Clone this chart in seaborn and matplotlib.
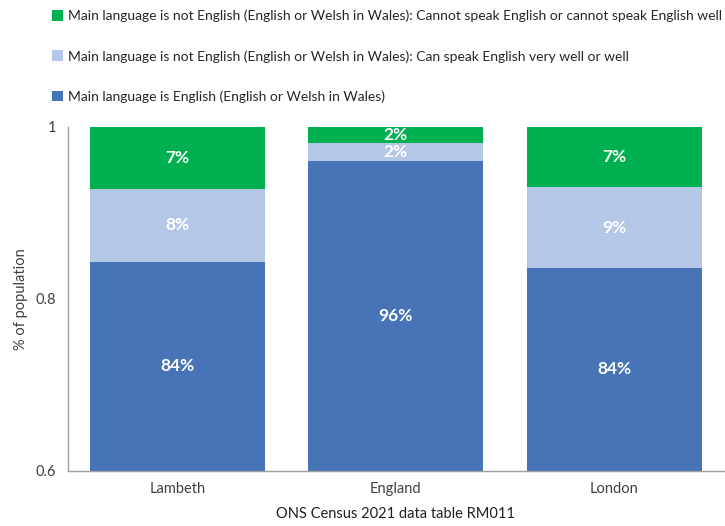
import pandas as pd
import numpy as np
import matplotlib.pyplot as plt
import seaborn as sns
from matplotlib.patches import Patch

areas = ["Lambeth", "England", "London"]
english_main = [0.843, 0.961, 0.836]
speak_well = [0.085, 0.020, 0.094]
cannot_speak = [0.072, 0.019, 0.070]

series_labels = [
    "Main language is English (English or Welsh in Wales)",
    "Main language is not English (English or Welsh in Wales): Can speak English very well or well",
    "Main language is not English (English or Welsh in Wales): Cannot speak English or cannot speak English well",
]
colors = ["#4674B6", "#B4C7E7", "#00B050"]

sns.set_style("white")
plt.rcParams["font.family"] = ["Lato", "DejaVu Sans"]

df = pd.DataFrame({"area": areas, "s0": english_main, "s1": speak_well, "s2": cannot_speak})
df["c0"] = df["s0"]
df["c1"] = df["s0"] + df["s1"]
df["c2"] = df["c1"] + df["s2"]

fig = plt.figure(figsize=(7.25, 5.26), dpi=100)
ax = fig.add_axes([0.094, 0.1046, 0.904, 0.654])

# draw cumulative layers from the top down so each one covers the next
for col, color in zip(["c2", "c1", "c0"], colors[::-1]):
    sns.barplot(data=df, x="area", y=col, color=color, width=0.8, saturation=1,
                edgecolor="none", ax=ax)

for i in range(len(areas)):
    lows = [0.6, df.loc[i, "c0"], df.loc[i, "c1"]]
    highs = [df.loc[i, "c0"], df.loc[i, "c1"], df.loc[i, "c2"]]
    vals = [df.loc[i, "s0"], df.loc[i, "s1"], df.loc[i, "s2"]]
    for lo, hi, v in zip(lows, highs, vals):
        ax.text(i, (lo + hi) / 2, f"{v * 100:.0f}%", ha="center", va="center",
                color="white", fontsize=12.5, fontweight="bold")

ax.set_ylim(0.6, 1.0)
ax.set_xlim(-0.5, 2.5)
ax.set_yticks([0.6, 0.8, 1.0])
ax.set_yticklabels(["0.6", "0.8", "1"])
ax.set_xticks(range(len(areas)))
ax.set_xticklabels(areas)
ax.set_xticks([0.5, 1.5, 2.5], minor=True)
ax.tick_params(axis="x", which="major", length=0, pad=8, labelsize=10.5, colors="#404040")
ax.tick_params(axis="x", which="minor", length=5, color="#A0A0A0", direction="out")
ax.tick_params(axis="y", length=5, color="#A0A0A0", direction="out", labelsize=10.5,
               labelcolor="#404040")
ax.set_ylabel("% of population", fontsize=10.5, color="#404040", labelpad=6)
ax.set_xlabel("ONS Census 2021 data table RM011", fontsize=10.5, color="#202020", labelpad=8)
for s in ["top", "right"]:
    ax.spines[s].set_visible(False)
for s in ["left", "bottom"]:
    ax.spines[s].set_color("#A0A0A0")
    ax.spines[s].set_linewidth(1)

handles = [Patch(facecolor=c, edgecolor="none") for c in colors[::-1]]
fig.legend(handles, series_labels[::-1], loc="upper left", bbox_to_anchor=(0.058, 1.0),
           frameon=False, fontsize=10, labelspacing=2.0, handlelength=0.8,
           handleheight=0.8, handletextpad=0.4, borderaxespad=0.3)

fig.savefig("out.png", dpi=100)
